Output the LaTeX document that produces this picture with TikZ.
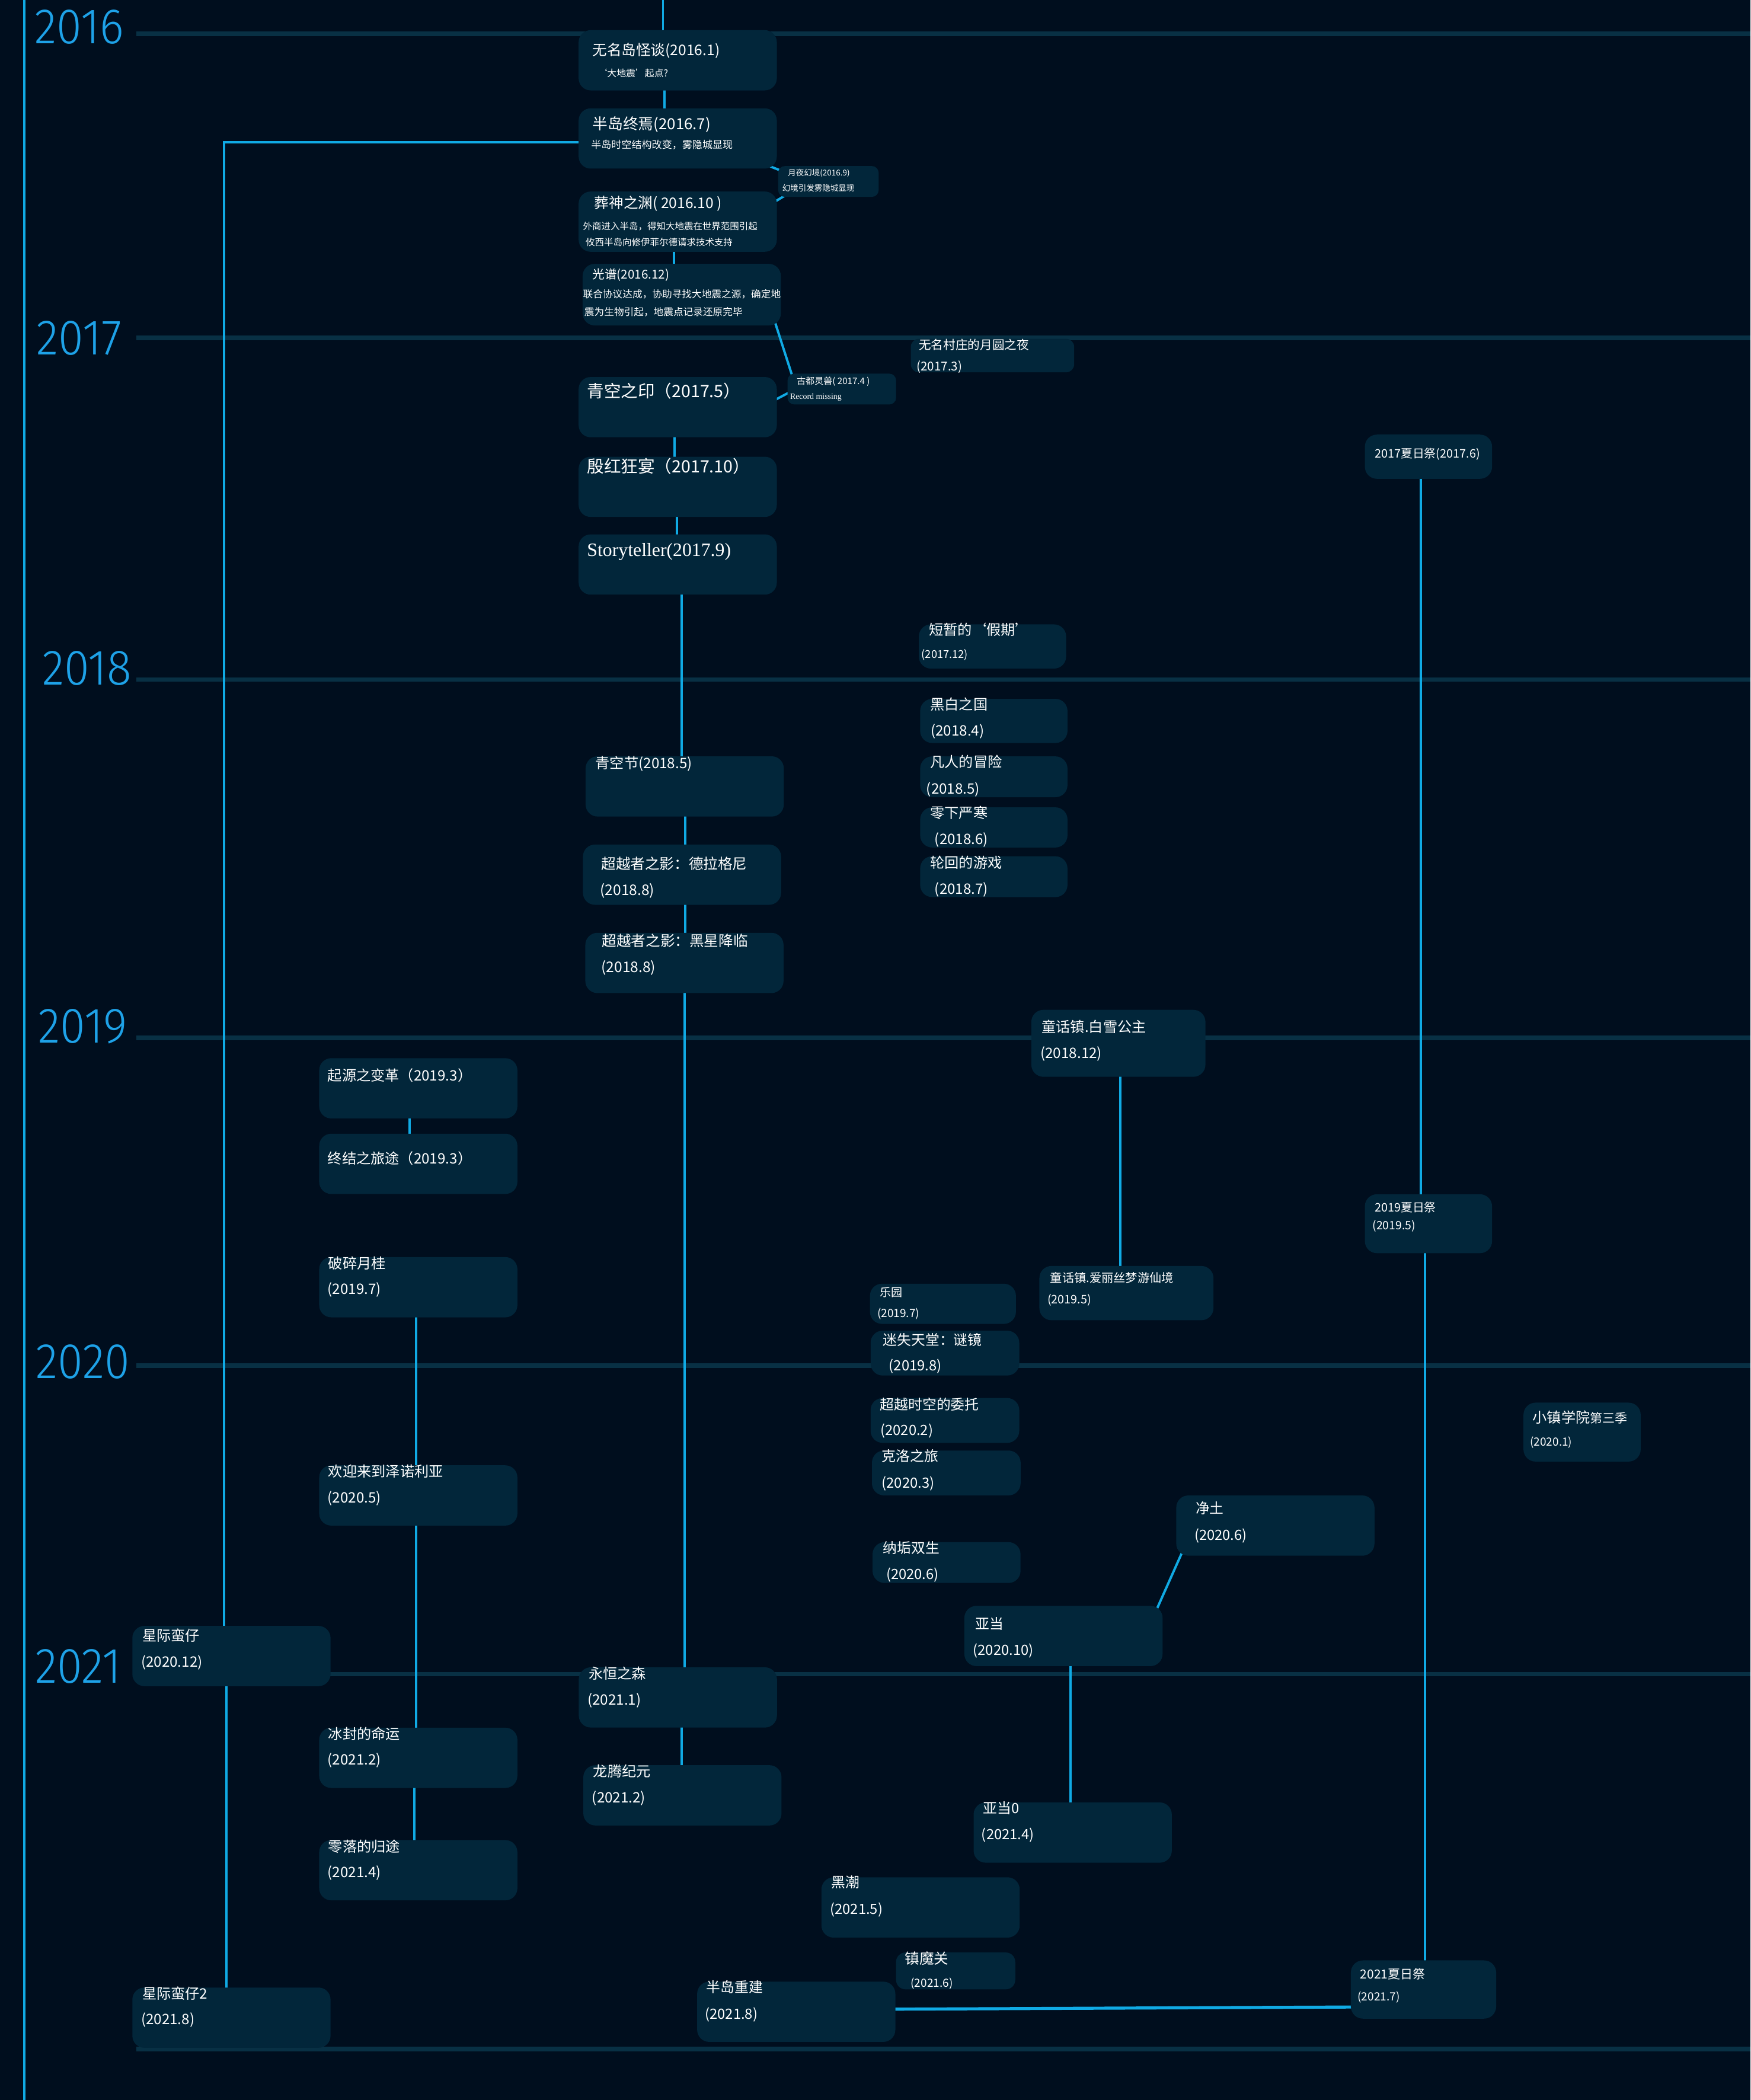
\documentclass[tikz,border=0pt]{standalone}
\usepackage{fontspec}
\newfontfamily\cjk{Noto Sans CJK SC}
\newfontfamily\serif{Liberation Serif}
\newfontfamily\yearfont[FakeStretch=0.92]{Fira Sans Light}
\usetikzlibrary{backgrounds}
\definecolor{bgc}{RGB}{0,14,30}
\definecolor{boxc}{RGB}{2,38,58}
\definecolor{linec}{RGB}{16,170,228}
\definecolor{gridc}{RGB}{8,48,68}
\definecolor{yearc}{RGB}{30,162,232}
\tikzset{
  ev/.style={fill=boxc, rounded corners=0.18cm, inner sep=0pt, minimum width=2.96cm, minimum height=0.9cm},
  lbl/.style={anchor=base west, inner sep=0pt, text=white, font=\cjk\fontsize{#1}{#1}\selectfont},
  lbl/.default=6.1,
  link/.style={draw=linec, line width=1pt},
  gridln/.style={draw=gridc, line width=1.9pt},
  yr/.style={anchor=west, inner sep=0pt, text=yearc, font=\yearfont\fontsize{21.2}{22}\selectfont},
}
\begin{document}
\begin{tikzpicture}[x=0.02cm, y=-0.02cm]
\useasboundingbox (0,0) rectangle (1307,1568);

% boxes
\node[ev] (wmd) at (506,45) {};
\node[ev] (bdzy) at (506,103.4) {};
\node[ev, rounded corners=0.1cm, minimum width=1.5cm, minimum height=0.46cm] (yyhj) at (618.5,135.5) {};
\node[ev] (zszy) at (506,165.5) {};
\node[ev, minimum height=0.92cm] (gp) at (509,220) {};
\node[ev, rounded corners=0.1cm, minimum width=1.62cm, minimum height=0.46cm] (gdls) at (628.5,290.5) {};
\node[ev, rounded corners=0.12cm, minimum width=2.44cm, minimum height=0.5cm] (wmcz) at (741,265.5) {};
\node[ev] (qkzy) at (506,304) {};
\node[ev] (yhky) at (506,363.5) {};
\node[ev] (story) at (506,421.5) {};
\node[ev, minimum width=2.2cm, minimum height=0.66cm] (djq) at (741,482.7) {};
\node[ev] (qkj) at (511.2,587.2) {};
\node[ev] (dlgn) at (509.2,653.1) {};
\node[ev] (hxjl) at (511,719) {};
\node[ev, minimum width=2.2cm, minimum height=0.66cm] (hbzg) at (742,538.3) {};
\node[ev, minimum width=2.2cm, minimum height=0.61cm] (frmx) at (742,580) {};
\node[ev, minimum width=2.2cm, minimum height=0.6cm] (lxyh) at (742,617.8) {};
\node[ev, minimum width=2.2cm, minimum height=0.61cm] (lhyx) at (742,654.6) {};
\node[ev, minimum width=2.6cm, minimum height=1cm] (bxgz) at (835,779) {};
\node[ev, minimum width=1.9cm, minimum height=0.66cm] (xrj17) at (1066.5,341) {};
\node[ev, minimum width=1.9cm, minimum height=0.88cm] (xrj19) at (1066.5,913.7) {};
\node[ev, minimum width=2.6cm, minimum height=0.81cm] (alsi) at (841,965.5) {};
\node[ev, minimum width=2.18cm, minimum height=0.6cm] (ly) at (704,973.5) {};
\node[ev, minimum width=2.22cm, minimum height=0.67cm] (mstt) at (705.5,1010.3) {};
\node[ev, minimum width=2.22cm, minimum height=0.67cm] (cysk) at (705.5,1060.6) {};
\node[ev, minimum width=2.22cm, minimum height=0.67cm] (klzl) at (706.5,1099.8) {};
\node[ev, minimum width=2.21cm, minimum height=0.61cm] (ngss) at (706.7,1166.7) {};
\node[ev, minimum width=1.75cm, minimum height=0.88cm] (xzxy) at (1181.2,1069.3) {};
\node[ev] (jt) at (952.2,1139.1) {};
\node[ev] (yd) at (794,1221.5) {};
\node[ev] (yd0) at (800.9,1368.3) {};
\node[ev] (hc) at (687.3,1424.2) {};
\node[ev, rounded corners=0.14cm, minimum width=1.78cm, minimum height=0.55cm] (zmg) at (713.5,1471.6) {};
\node[ev] (bdcj) at (594.5,1502.1) {};
\node[ev, minimum width=2.17cm, minimum height=0.87cm] (xrj21) at (1062.8,1485.5) {};
\node[ev] (qyzb) at (312.3,812.6) {};
\node[ev] (zjlt) at (312.3,869) {};
\node[ev] (psyg) at (312.3,961.1) {};
\node[ev] (hyzn) at (312.3,1116.6) {};
\node[ev] (bfmy) at (312.3,1312.5) {};
\node[ev] (lldg) at (312.3,1396.4) {};
\node[ev] (xjmz) at (172.8,1236.5) {};
\node[ev] (xjmz2) at (172.8,1506.5) {};
\node[ev] (yhzs) at (506.1,1267.4) {};
\node[ev] (ltjy) at (509.5,1340.5) {};

% texts
\node[lbl=6.2] (wmd1) at (442,41.5) {无名岛怪谈(2016.1)};
\node[lbl=4] (wmd2) at (446,57.5) {‘大地震’起点?};
\node[lbl=6.5] (bdzy1) at (442,96.9) {半岛终焉(2016.7)};
\node[lbl=4.3] (bdzy2) at (441,111) {半岛时空结构改变，雾隐城显现};
\node[lbl=3.4] (yyhj1) at (588,131.2) {月夜幻境(2016.9)};
\node[lbl=3.4] (yyhj2) at (583.8,142.7) {幻境引发雾隐城显现};
\node[lbl=6.2] (zszy1) at (443.5,155.6) {葬神之渊( 2016.10 )};
\node[lbl=3.9] (zszy2) at (435,171.5) {外商进入半岛，得知大地震在世界范围引起};
\node[lbl=3.9] (zszy3) at (437,183.3) {攸西半岛向修伊菲尔德请求技术支持};
\node[lbl=5.2] (gp1) at (442,208.2) {光谱(2016.12)};
\node[lbl=4.2] (gp2) at (435,222.6) {联合协议达成，协助寻找大地震之源，确定地};
\node[lbl=4.2] (gp3) at (436,235.5) {震为生物引起，地震点记录还原完毕};
\node[lbl=3.8] (gdls1) at (594.5,286.9) {古都灵兽( 2017.4 )};
\node[lbl, font=\serif\fontsize{3.5}{3.5}\selectfont] (gdls2) at (589.6,298.2) {Record missing};
\node[lbl=5.2] (wmcz1) at (685.7,260.8) {无名村庄的月圆之夜};
\node[lbl=5.2] (wmcz2) at (684,276.9) {(2017.3)};
\node[lbl=7.2] (qkzy1) at (438,296.6) {青空之印（2017.5）};
\node[lbl=7.2] (yhky1) at (438,352.8) {殷红狂宴（2017.10）};
\node[lbl, font=\serif\fontsize{8}{8}\selectfont] (story1) at (438,415.4) {Storyteller(2017.9)};
\node[lbl] (djq1) at (693.3,474.2) {短暂的‘假期’};
\node[lbl=4.6] (djq2) at (687.7,491.5) {(2017.12)};
\node[lbl] (qkj1) at (444.3,573.6) {青空节(2018.5)};
\node[lbl=6.2] (dlgn1) at (448.6,649.2) {超越者之影：德拉格尼};
\node[lbl=6.2] (dlgn2) at (447.7,668.7) {(2018.8)};
\node[lbl=6.2] (hxjl1) at (449.1,706.5) {超越者之影：黑星降临};
\node[lbl=6.2] (hxjl2) at (448.6,726.1) {(2018.8)};
\node[lbl] (hbzg1) at (694.2,530.1) {黑白之国};
\node[lbl] (hbzg2) at (694.6,549.4) {(2018.4)};
\node[lbl] (frmx1) at (694.2,573.1) {凡人的冒险};
\node[lbl] (frmx2) at (691.3,592.6) {(2018.5)};
\node[lbl] (lxyh1) at (694.2,611.1) {零下严寒};
\node[lbl] (lxyh2) at (697.5,630.5) {(2018.6)};
\node[lbl] (lhyx1) at (694.2,648.2) {轮回的游戏};
\node[lbl] (lhyx2) at (697.5,667.4) {(2018.7)};
\node[lbl] (bxgz1) at (777.4,770.6) {童话镇.白雪公主};
\node[lbl] (bxgz2) at (776.5,790.1) {(2018.12)};
\node[lbl=5] (xrj171) at (1026,341.8) {2017夏日祭(2017.6)};
\node[lbl=5] (xrj191) at (1026,904.8) {2019夏日祭};
\node[lbl=4.9] (xrj192) at (1024.4,918.2) {(2019.5)};
\node[lbl=5.1] (alsi1) at (783.8,957.3) {童话镇.爱丽丝梦游仙境};
\node[lbl=5] (alsi2) at (781.7,973.4) {(2019.5)};
\node[lbl=4.8] (ly1) at (656.8,967.9) {乐园};
\node[lbl=4.8] (ly2) at (654.7,983.8) {(2019.7)};
\node[lbl=6] (mstt1) at (659,1004.4) {迷失天堂：谜镜};
\node[lbl=6] (mstt2) at (663.4,1023.6) {(2019.8)};
\node[lbl=6] (cysk1) at (656.8,1052.6) {超越时空的委托};
\node[lbl=6] (cysk2) at (657,1071.6) {(2020.2)};
\node[lbl=6] (klzl1) at (658,1091.3) {克洛之旅};
\node[lbl=6] (klzl2) at (658,1110.9) {(2020.3)};
\node[lbl=6] (ngss1) at (659,1159.8) {纳垢双生};
\node[lbl=6] (ngss2) at (661.3,1179.2) {(2020.6)};
\node[lbl] (xzxy1) at (1144,1062.2) {小镇学院{\fontsize{5.3}{5.3}\selectfont 第三季}};
\node[lbl=4.8] (xzxy2) at (1142,1079.4) {(2020.1)};
\node[lbl=6] (jt1) at (892.3,1130.2) {净土};
\node[lbl=6] (jt2) at (891.4,1150) {(2020.6)};
\node[lbl=6] (yd1) at (727.9,1216.5) {亚当};
\node[lbl=6] (yd2) at (726.2,1236) {(2020.10)};
\node[lbl=6] (yd01) at (733.8,1354.2) {亚当0};
\node[lbl=6] (yd02) at (732.5,1373.6) {(2021.4)};
\node[lbl=6] (hc1) at (620.3,1409.4) {黑潮};
\node[lbl=6] (hc2) at (619.4,1429.1) {(2021.5)};
\node[lbl=6.2] (zmg1) at (675.3,1466.2) {镇魔关};
\node[lbl=4.8] (zmg2) at (679.6,1483.5) {(2021.6)};
\node[lbl=6] (bdcj1) at (527,1487.8) {半岛重建};
\node[lbl=6] (bdcj2) at (526,1507.4) {(2021.8)};
\node[lbl=5.3] (xrj211) at (1015.3,1477.5) {2021夏日祭};
\node[lbl=4.8] (xrj212) at (1013.3,1493.8) {(2021.7)};
\node[lbl] (qyzb1) at (244.3,807.1) {起源之变革（2019.3）};
\node[lbl] (zjlt1) at (244.3,869) {终结之旅途（2019.3）};
\node[lbl] (psyg1) at (244.8,947.5) {破碎月桂};
\node[lbl] (psyg2) at (244.3,966.5) {(2019.7)};
\node[lbl] (hyzn1) at (244.8,1102.7) {欢迎来到泽诺利亚};
\node[lbl] (hyzn2) at (244.3,1121.9) {(2020.5)};
\node[lbl] (bfmy1) at (244.8,1298.7) {冰封的命运};
\node[lbl] (bfmy2) at (244.3,1317.9) {(2021.2)};
\node[lbl] (lldg1) at (244.8,1382.6) {零落的归途};
\node[lbl] (lldg2) at (244.3,1401.8) {(2021.4)};
\node[lbl] (xjmz1) at (105.9,1225.3) {星际蛮仔};
\node[lbl] (xjmz2a) at (105,1244.9) {(2020.12)};
\node[lbl] (xjmz21) at (105.9,1492.5) {星际蛮仔2};
\node[lbl] (xjmz22) at (105,1511.7) {(2021.8)};
\node[lbl] (yhzs1) at (439.2,1253.6) {永恒之森};
\node[lbl] (yhzs2) at (438.3,1272.8) {(2021.1)};
\node[lbl] (ltjy1) at (442.6,1326.4) {龙腾纪元};
\node[lbl] (ltjy2) at (441.7,1346.2) {(2021.2)};

% years
\node[yr] (y2016) at (25.6,20.3) {2016};
\node[yr] (y2017) at (27,252.6) {2017};
\node[yr] (y2018) at (31.2,498.8) {2018};
\node[yr] (y2019) at (28.3,766.5) {2019};
\node[yr] (y2020) at (26.5,1017) {2020};
\node[yr] (y2021) at (25.8,1244.2) {2021};

\coordinate (top) at (495,0);

\begin{scope}[on background layer]
\fill[bgc] (0,0) rectangle (1307,1568);
% year lines
\foreach \yy in {25.3,252.3,507.3,774.9,1019.7,1250,1530}
  \draw[gridln] (101.6,\yy) -- (1307,\yy);
\draw[link] (18,0) -- (18,1568);
% main column
\draw[link] (top) -- (top |- wmd.center);
\draw[link] (496,0 |- wmd.center) -- (496,0 |- bdzy.center);
\draw[link] ([shift={(-14,-5.4)}]bdzy.south east) -- ([shift={(14,8.3)}]yyhj.north west);
\draw[link] ([shift={(-10,13)}]zszy.north east) -- ([shift={(19,14)}]yyhj.north west);
\draw[link] (503,0 |- zszy.center) -- (503,0 |- gp.center);
\draw[link] ([shift={(-8,-13)}]gp.south east) -- ([shift={(7.6,-10)}]gdls.south west);
\draw[link] ([shift={(-10,-1)}]qkzy.east) -- ([shift={(12,-3)}]gdls.west);
\draw[link] (503.6,0 |- qkzy.center) -- (503.6,0 |- yhky.center);
\draw[link] (505.3,0 |- yhky.center) -- (505.3,0 |- story.center);
\draw[link] (509,0 |- story.center) -- (509,0 |- qkj.center);
\draw[link] (511.6,0 |- qkj.center) -- (511.6,0 |- dlgn.center);
\draw[link] (511.6,0 |- dlgn.center) -- (511.6,0 |- hxjl.center);
\draw[link] (511,0 |- hxjl.center) -- (511,0 |- yhzs.center);
\draw[link] (509,0 |- yhzs.center) -- (509,0 |- ltjy.center);
% left columns
\draw[link] (bdzy.center |- 0,106.3) -| (167.4,0 |- xjmz.center);
\draw[link] (169,0 |- xjmz.center) -- (169,0 |- xjmz2.center);
\draw[link] (305.8,0 |- qyzb.center) -- (305.8,0 |- zjlt.center);
\draw[link] (310.6,0 |- psyg.center) -- (310.6,0 |- hyzn.center);
\draw[link] (310.8,0 |- hyzn.center) -- (310.8,0 |- bfmy.center);
\draw[link] (309.2,0 |- bfmy.center) -- (309.2,0 |- lldg.center);
% right columns
\draw[link] (836.5,0 |- bxgz.center) -- (836.5,0 |- alsi.center);
\draw[link] (1061,0 |- xrj17.center) -- (1061,0 |- xrj19.center);
\draw[link] (1064,0 |- xrj19.center) -- (1064,0 |- xrj21.center);
\draw[link, line width=1.3pt] (bdcj.center |- 0,1500.5) -- (xrj21.center |- 0,1498.3);
\draw[link] ([shift={(8.6,-11.6)}]jt.south west) -- ([shift={(-9.2,13)}]yd.north east);
\draw[link] (799.4,0 |- yd.center) -- (799.4,0 |- yd0.center);
\end{scope}
\end{tikzpicture}
\end{document}
